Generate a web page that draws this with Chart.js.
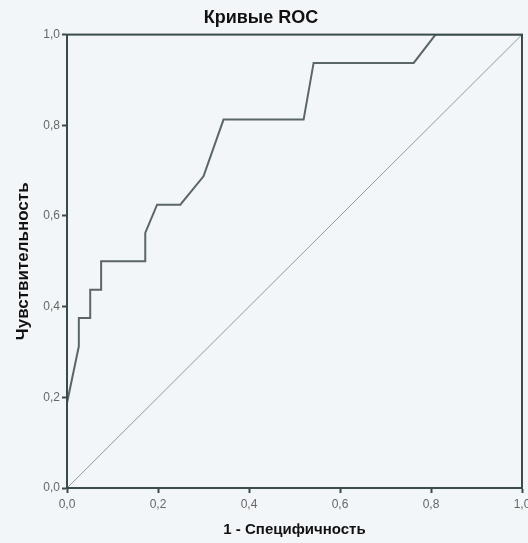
<!DOCTYPE html>
<html lang="ru">
<head>
  <meta charset="UTF-8" />
  <title>Кривые ROC</title>
  <script src="https://cdn.jsdelivr.net/npm/chart.js"></script>
  <style>
    html, body { margin: 0; padding: 0; background: #f3f6f9; }
    #wrap { width: 528px; height: 543px; }
  </style>
</head>
<body>
  <div id="wrap"><canvas id="roc"></canvas></div>

  <script>
    // ROC curve (1 - specificity, sensitivity)
    const fpr = [0, 0, 0.026, 0.026, 0.051, 0.051, 0.075, 0.075, 0.172, 0.172, 0.198, 0.249, 0.30, 0.344, 0.52, 0.542, 0.762, 0.81, 1.0];
    const tpr = [0, 0.1875, 0.3125, 0.375, 0.375, 0.4375, 0.4375, 0.5, 0.5, 0.5625, 0.625, 0.625, 0.6875, 0.8125, 0.8125, 0.9375, 0.9375, 1.0, 1.0];
    const refX = [0, 1];
    const refY = [0, 1];
    const tickValues = [0, 0.2, 0.4, 0.6, 0.8, 1.0];

    const frameColor = '#3b4b4a';
    const fontFamily = 'Arial, "Liberation Sans", sans-serif';
    const fmt = v => v.toFixed(1).replace('.', ',');

    const framePlugin = {
      id: 'frame',
      beforeDraw(chart) {
        const { ctx } = chart;
        ctx.save();
        ctx.fillStyle = '#f3f6f9';
        ctx.fillRect(0, 0, chart.width, chart.height);
        ctx.restore();
      },
      afterDraw(chart) {
        const { ctx, chartArea: a } = chart;
        ctx.save();
        ctx.strokeStyle = frameColor;
        ctx.lineWidth = 2;
        ctx.strokeRect(a.left, a.top, a.right - a.left, a.bottom - a.top);
        ctx.restore();
      }
    };

    new Chart(document.getElementById('roc'), {
      type: 'scatter',
      data: {
        datasets: [
          {
            label: 'Reference',
            data: refX.map((x, i) => ({ x, y: refY[i] })),
            showLine: true,
            borderColor: '#8f9c9e',
            borderWidth: 1,
            pointRadius: 0
          },
          {
            label: 'ROC',
            data: fpr.map((x, i) => ({ x, y: tpr[i] })),
            showLine: true,
            borderColor: '#5b6668',
            borderWidth: 2,
            pointRadius: 0
          }
        ]
      },
      options: {
        responsive: true,
        maintainAspectRatio: false,
        animation: false,
        layout: { autoPadding: false, padding: { left: 0, right: 6, top: 0, bottom: 0 } },
        plugins: {
          legend: { display: false },
          tooltip: { enabled: false },
          title: {
            display: true,
            text: 'Кривые ROC',
            color: '#111',
            font: { family: fontFamily, size: 18, weight: 'bold' },
            padding: { top: 7, bottom: 6 }
          }
        },
        scales: {
          x: {
            type: 'linear',
            min: 0,
            max: 1,
            afterFit: s => { s.height = 55; s.paddingLeft = 0; s.paddingRight = 0; },
            afterBuildTicks: s => { s.ticks = tickValues.map(v => ({ value: v })); },
            ticks: {
              callback: fmt,
              color: '#666',
              padding: 4,
              maxRotation: 0,
              font: { family: fontFamily, size: 12 }
            },
            grid: { drawOnChartArea: false, drawTicks: true, tickLength: 5, color: frameColor, tickWidth: 2 },
            border: { display: true, color: frameColor, width: 2 },
            title: {
              display: true,
              text: '1 - Специфичность',
              color: '#111',
              font: { family: fontFamily, size: 15, weight: 'bold' },
              padding: { top: 0, bottom: 4 }
            }
          },
          y: {
            type: 'linear',
            min: 0,
            max: 1,
            afterFit: s => { s.width = 67; s.paddingTop = 0; s.paddingBottom = 0; },
            afterBuildTicks: s => { s.ticks = tickValues.map(v => ({ value: v })); },
            ticks: {
              callback: fmt,
              color: '#666',
              padding: 2,
              font: { family: fontFamily, size: 12 }
            },
            grid: { drawOnChartArea: false, drawTicks: true, tickLength: 5, color: frameColor, tickWidth: 2 },
            border: { display: true, color: frameColor, width: 2 },
            title: {
              display: true,
              text: 'Чувствительность',
              color: '#111',
              font: { family: fontFamily, size: 17, weight: 'bold' },
              padding: { top: 13, bottom: 0 }
            }
          }
        }
      },
      plugins: [framePlugin]
    });
  </script>
</body>
</html>
